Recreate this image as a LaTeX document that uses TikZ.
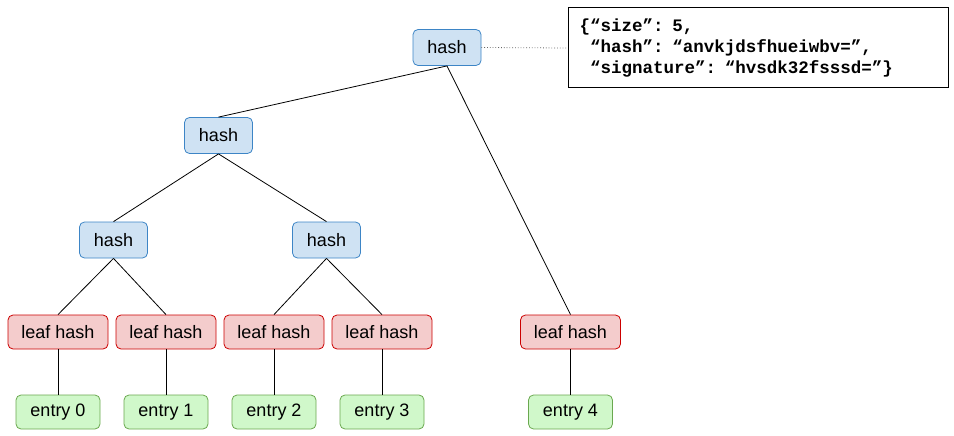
\documentclass[tikz,border=0pt]{standalone}
\usepackage{fontspec}
\setmainfont{Liberation Sans}
\newfontfamily\jsonfont{Liberation Mono}
\definecolor{hashfill}{HTML}{CFE2F3}
\definecolor{hashline}{HTML}{3D85C6}
\definecolor{leaffill}{HTML}{F4CCCC}
\definecolor{leafline}{HTML}{CC0000}
\definecolor{entryfill}{HTML}{D0F8CA}
\definecolor{entryline}{HTML}{6AA84F}
\definecolor{dotline}{HTML}{666666}
\begin{document}
\begin{tikzpicture}[x=1pt,y=-1pt,
  basebox/.style={rounded corners=5pt, inner sep=0pt, line width=0.8pt,
    font=\fontsize{18}{20}\selectfont},
  hashbox/.style={basebox, draw=hashline, fill=hashfill, minimum width=68pt, minimum height=36pt},
  leafbox/.style={basebox, draw=leafline, fill=leaffill, minimum width=100pt, minimum height=34pt},
  entrybox/.style={basebox, draw=entryline, fill=entryfill, minimum width=84pt, minimum height=34pt},
  edge/.style={draw=black, line width=0.8pt},
  jsonbox/.style={draw=black, line width=1pt, fill=white, anchor=west, minimum height=80pt,
    text width=358pt, inner xsep=11pt, inner ysep=0pt, align=left,
    font=\jsonfont\bfseries\fontsize{17.5}{21}\selectfont}
]
\useasboundingbox (0,0) rectangle (954,436);
\node[hashbox] (root) at (447,47.5) {hash};
\node[hashbox] (h1) at (218.5,135.5) {hash};
\node[hashbox] (h2a) at (113.5,240) {hash};
\node[hashbox] (h2b) at (326.5,240) {hash};
\node[leafbox] (leaf0) at (58,332) {leaf hash};
\node[leafbox] (leaf1) at (166,332) {leaf hash};
\node[leafbox] (leaf2) at (274,332) {leaf hash};
\node[leafbox] (leaf3) at (382,332) {leaf hash};
\node[leafbox] (leaf4) at (570.5,332) {leaf hash};
\node[entrybox] (e0) at (58,412) {entry 0};
\node[entrybox] (e1) at (166,412) {entry 1};
\node[entrybox] (e2) at (274,412) {entry 2};
\node[entrybox] (e3) at (382,412) {entry 3};
\node[entrybox] (e4) at (570.5,412) {entry 4};
\node[jsonbox] (json) at (568,48) {\{“size”: 5,\\
\phantom{\{}“hash”: “anvkjdsfhueiwbv=”,\\
\phantom{\{}“signature”: “hvsdk32fsssd=”\}};
\draw[edge] (root.south) -- (h1.north);
\draw[edge] (root.south) -- (leaf4.north);
\draw[edge] (h1.south) -- (h2a.north);
\draw[edge] (h1.south) -- (h2b.north);
\draw[edge] (h2a.south) -- (leaf0.north);
\draw[edge] (h2a.south) -- (leaf1.north);
\draw[edge] (h2b.south) -- (leaf2.north);
\draw[edge] (h2b.south) -- (leaf3.north);
\draw[edge] (leaf0.south) -- (e0.north);
\draw[edge] (leaf1.south) -- (e1.north);
\draw[edge] (leaf2.south) -- (e2.north);
\draw[edge] (leaf3.south) -- (e3.north);
\draw[edge] (leaf4.south) -- (e4.north);
\draw[dotline, dotted, line width=0.8pt] (root.east) -- (json.west);
\end{tikzpicture}
\end{document}
